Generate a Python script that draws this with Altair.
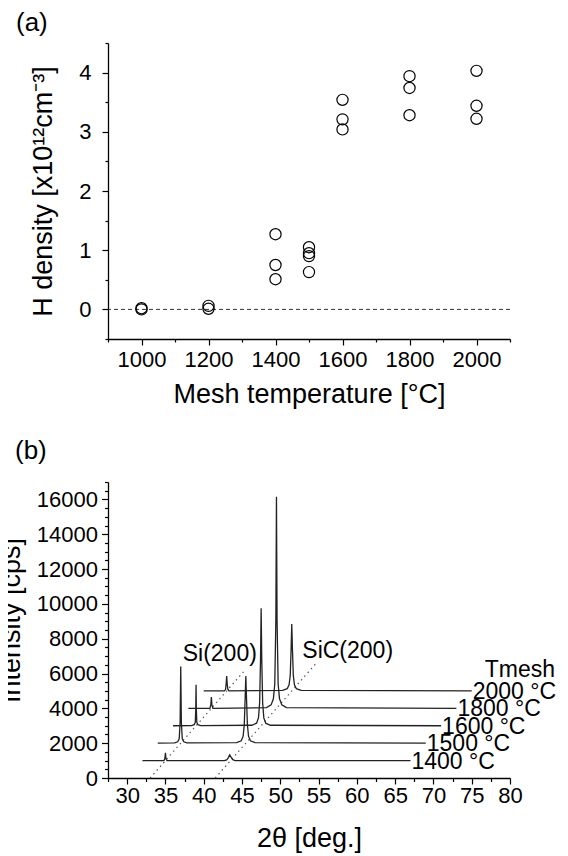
import altair as alt
import pandas as pd

FONT = "Liberation Sans"

# ---------------- Panel (a) data ----------------
mesh_temp = [1000, 1000, 1200, 1200, 1400, 1400, 1400, 1500, 1500, 1500, 1500,
             1600, 1600, 1600, 1800, 1800, 1800, 2000, 2000, 2000]
h_density = [0.00, 0.02, 0.06, 0.01, 1.27, 0.75, 0.51, 1.05, 0.95, 0.90, 0.63,
             3.54, 3.21, 3.04, 3.94, 3.74, 3.28, 4.03, 3.44, 3.22]

# ---------------- Panel (b) data (offset XRD traces, as plotted) ----------------
t1400_x = [32.0, 34.8, 34.93, 35.0, 35.07, 35.2, 42.7, 43.0, 43.2, 43.4, 43.6, 43.8, 44.1, 67.0]
t1400_y = [1000, 1000, 1120, 1450, 1120, 1000, 1000, 1040, 1160, 1330, 1180, 1050, 1000, 1000]

t1500_x = [34.0, 36.2, 36.6, 36.8, 36.92, 37.0, 37.08, 37.2, 37.4, 37.8,
           44.3, 44.9, 45.15, 45.3, 45.42, 45.5, 45.58, 45.7, 45.85, 46.1, 46.7, 69.0]
t1500_y = [2000, 2020, 2080, 2250, 3200, 6400, 3200, 2250, 2080, 2020,
           2030, 2140, 2400, 3100, 4700, 5850, 4700, 3100, 2400, 2140, 2030, 2000]

t1600_x = [36.0, 38.4, 38.75, 38.9, 38.96, 39.0, 39.04, 39.1, 39.25, 39.6,
           46.3, 46.9, 47.15, 47.3, 47.42, 47.5, 47.58, 47.7, 47.85, 48.1, 48.7, 71.0]
t1600_y = [3000, 3010, 3060, 3200, 3900, 5350, 3900, 3200, 3060, 3010,
           3030, 3150, 3450, 4300, 6800, 9750, 6800, 4300, 3450, 3150, 3030, 3000]

t1800_x = [38.0, 40.8, 40.93, 41.0, 41.07, 41.2,
           48.2, 48.8, 49.1, 49.28, 49.42, 49.5, 49.58, 49.72, 49.9, 50.2, 50.8, 73.0]
t1800_y = [4000, 4000, 4200, 4650, 4200, 4000,
           4040, 4200, 4550, 5400, 9000, 16150, 9000, 5400, 4550, 4200, 4040, 4000]

t2000_x = [40.0, 42.7, 42.85, 42.93, 43.0, 43.07, 43.15, 43.3,
           50.3, 50.9, 51.15, 51.3, 51.42, 51.5, 51.58, 51.7, 51.85, 52.1, 52.7, 75.0]
t2000_y = [5000, 5000, 5080, 5400, 5850, 5400, 5100, 5000,
           5030, 5130, 5350, 5900, 7500, 8850, 7500, 5900, 5350, 5130, 5030, 5000]

trace_names = ["1400", "1500", "1600", "1800", "2000"]
trace_xs = [t1400_x, t1500_x, t1600_x, t1800_x, t2000_x]
trace_ys = [t1400_y, t1500_y, t1600_y, t1800_y, t2000_y]

# dotted guide lines through the peak positions
si_guide_x = [33.0, 45.2]
si_guide_y = [0, 6100]
sic_guide_x = [41.5, 54.8]
sic_guide_y = [0, 6650]

peak_labels = ["Si(200)", "SiC(200)"]
peak_label_x = [42.1, 58.8]
peak_label_y = [6700, 6870]

temp_labels = ["1400 °C", "1500 °C", "1600 °C", "1800 °C", "2000 °C"]
temp_label_x = [67, 69, 71, 73, 75]
temp_label_y = [1000, 2000, 3000, 4000, 5000]

legend_title = ["Tmesh"]
legend_title_x = [76.7]
legend_title_y = [5820]

# ---------------- build tables ----------------
rows = []
for name, xs, ys in zip(trace_names, trace_xs, trace_ys):
    for i, (xv, yv) in enumerate(zip(xs, ys)):
        rows.append({"trace": name, "i": i, "x": xv, "y": yv})
df_traces = pd.DataFrame(rows)

guide_rows = []
for name, xs, ys in [("si", si_guide_x, si_guide_y), ("sic", sic_guide_x, sic_guide_y)]:
    for i, (xv, yv) in enumerate(zip(xs, ys)):
        guide_rows.append({"g": name, "i": i, "x": xv, "y": yv})
df_guides = pd.DataFrame(guide_rows)

df_peak_lab = pd.DataFrame({"t": peak_labels, "x": peak_label_x, "y": peak_label_y})
df_temp_lab = pd.DataFrame({"t": temp_labels, "x": temp_label_x, "y": temp_label_y})
df_leg = pd.DataFrame({"t": legend_title, "x": legend_title_x, "y": legend_title_y})

W, H = 402, 296
TICK_FS = 22
TITLE_FS = 27

# ---------------- Panel (a) ----------------
df_a = pd.DataFrame({"T": mesh_temp, "n": h_density})

xa_scale = alt.Scale(domain=[900, 2100], nice=False, zero=False)
ya_scale = alt.Scale(domain=[-0.5, 4.5], nice=False, zero=False)

xa_axis = alt.Axis(
    values=list(range(900, 2101, 100)),
    labelExpr="datum.value % 200 === 0 ? format(datum.value, 'd') : ''",
    tickSize={"condition": {"test": "datum.value % 200 === 0", "value": 6}, "value": 3},
    labelOverlap=False, labelFlush=False, labelPadding=4, grid=False,
    title="Mesh temperature [°C]", titleX=W / 2, titleY=63, titleBaseline="alphabetic",
)
ya_axis = alt.Axis(
    values=[v / 2 for v in range(-1, 10)],
    labelExpr="datum.value % 1 === 0 ? format(datum.value, 'd') : ''",
    tickSize={"condition": {"test": "datum.value % 1 === 0", "value": 6}, "value": 3},
    labelOverlap=False, labelFlush=False, labelPadding=11, grid=False,
    title="H density [x10¹²cm⁻³]", titleX=-57, titleBaseline="alphabetic",
)

points = alt.Chart(df_a).mark_point(
    shape="circle", filled=False, color="black", strokeWidth=1.2, size=125, opacity=1
).encode(
    x=alt.X("T:Q", scale=xa_scale, axis=xa_axis),
    y=alt.Y("n:Q", scale=ya_scale, axis=ya_axis),
)
zero_line = alt.Chart(pd.DataFrame({"z": [0]})).mark_rule(
    strokeDash=[4, 3], color="#333", strokeWidth=1
).encode(y=alt.Y("z:Q", scale=ya_scale, axis=ya_axis))
label_a = alt.Chart(pd.DataFrame({"t": ["(a)"]})).mark_text(
    align="left", baseline="alphabetic", fontSize=26, font=FONT, color="black"
).encode(text="t:N", x=alt.value(-92), y=alt.value(-12))

chart_a = alt.layer(zero_line, points, label_a).properties(width=W, height=H)

# ---------------- Panel (b) ----------------
xb_scale = alt.Scale(domain=[27.5, 80], nice=False, zero=False)
yb_scale = alt.Scale(domain=[0, 17000], nice=False, zero=False)

xb_axis = alt.Axis(
    values=[27.5 + 2.5 * k for k in range(22)],
    labelExpr="datum.value % 5 === 0 ? format(datum.value, 'd') : ''",
    tickSize={"condition": {"test": "datum.value % 5 === 0", "value": 6}, "value": 3.5},
    labelOverlap=False, labelFlush=False, labelPadding=1, grid=False,
    title="2θ [deg.]", titleX=W / 2, titleY=68, titleBaseline="alphabetic",
)
yb_axis = alt.Axis(
    values=list(range(0, 17001, 500)),
    labelExpr="datum.value % 2000 === 0 ? format(datum.value, 'd') : ''",
    tickSize={"condition": {"test": "datum.value % 2000 === 0", "value": 6.5}, "value": 3.5},
    labelOverlap=False, labelFlush=False, labelPadding=4, grid=False,
    title="Intensity [cps]", titleX=-89, titleY=138, titleBaseline="alphabetic",
)

xb = alt.X("x:Q", scale=xb_scale, axis=xb_axis)
yb = alt.Y("y:Q", scale=yb_scale, axis=yb_axis)

traces = alt.Chart(df_traces).mark_line(color="#222", strokeWidth=1.3).encode(
    x=xb, y=yb, detail="trace:N", order="i:Q",
)
guides = alt.Chart(df_guides).mark_line(color="#555", strokeWidth=1.2, strokeDash=[1.5, 3.5]).encode(
    x=xb, y=yb, detail="g:N", order="i:Q",
)
peak_text = alt.Chart(df_peak_lab).mark_text(
    align="center", baseline="alphabetic", fontSize=23, font=FONT, color="black"
).encode(x=xb, y=yb, text="t:N")
temp_text = alt.Chart(df_temp_lab).mark_text(
    align="left", baseline="alphabetic", fontSize=23, font=FONT, color="black", dx=1, dy=8
).encode(x=xb, y=yb, text="t:N")
leg_text = alt.Chart(df_leg).mark_text(
    align="left", baseline="alphabetic", fontSize=23, font=FONT, color="black"
).encode(x=xb, y=yb, text="t:N")
label_b = alt.Chart(pd.DataFrame({"t": ["(b)"]})).mark_text(
    align="left", baseline="alphabetic", fontSize=26, font=FONT, color="black"
).encode(text="t:N", x=alt.value(-93), y=alt.value(-23))

chart_b = alt.layer(guides, traces, peak_text, temp_text, leg_text, label_b).properties(width=W, height=H)

chart = alt.vconcat(chart_a, chart_b, spacing=31).properties(
    padding={"left": -12, "top": 2, "right": 0, "bottom": 3}
).configure_view(strokeWidth=0).configure_axis(
    domainColor="black", domainWidth=1.3, tickColor="black", tickWidth=1.2,
    labelFont=FONT, labelFontSize=TICK_FS, labelColor="black",
    titleFont=FONT, titleFontSize=TITLE_FS, titleFontWeight="normal", titleColor="black",
)

chart.save("out.html", embed_options={"renderer": "svg", "actions": False})
